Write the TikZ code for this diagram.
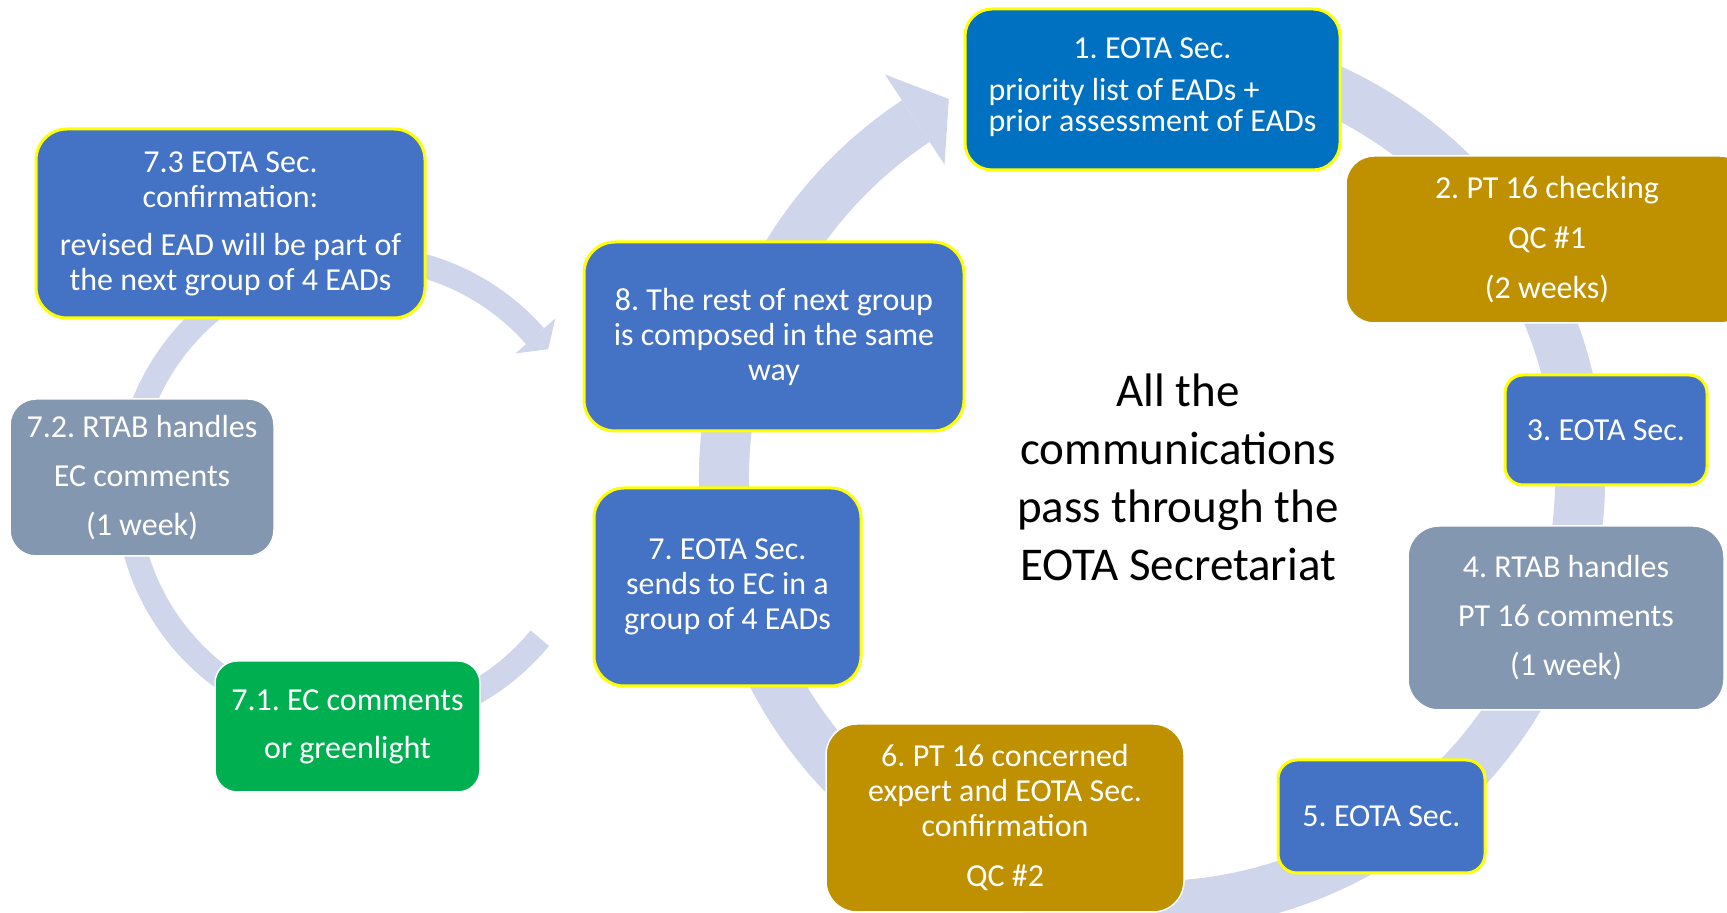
\documentclass[tikz,border=0pt]{standalone}
\usepackage{fontspec}
\setmainfont{Carlito}
\usetikzlibrary{calc}
\definecolor{ringc}{HTML}{CFD5EA}
\definecolor{bluea}{HTML}{0070C0}
\definecolor{blueb}{HTML}{4472C4}
\definecolor{gold}{HTML}{BF9000}
\definecolor{slate}{HTML}{8497B0}
\definecolor{grn}{HTML}{00B050}
\definecolor{yel}{HTML}{FFFF00}
\frenchspacing
\begin{document}
\frenchspacing
\begin{tikzpicture}[x=1pt,y=1pt,
  box/.style={rectangle, text=white, align=center, inner sep=0pt, font=\fontsize{32}{35}\selectfont},
  ybox/.style={box, draw=yel, line width=3pt},
  wbox/.style={box, draw=white, line width=1.5pt},
  ringline/.style={draw=ringc, line cap=butt},
  ringhead/.style={fill=ringc},
  bigtext/.style={text=black, align=center, inner sep=0pt, font=\fontsize{47}{58}\selectfont}
]
\useasboundingbox (0,0) rectangle (1727,913);
\clip (0,0) rectangle (1727,913);
\fill[white] (0,0) rectangle (1727,913);

% ring centres
\coordinate (bc) at (1152,435);
\coordinate (sc) at (360,423);

% big cycle
\draw[ringline, line width=50pt] ($(bc)+(110:428)$) arc[start angle=110, end angle=-236.5, radius=428];
\fill[ringhead] ($(bc)+(123.5:484)$) -- ($(bc)+(118.2:430)$) -- ($(bc)+(123.5:376)$) -- cycle;

% small cycle
\draw[ringline, line width=24pt] ($(sc)+(-39.5:233)$) arc[start angle=-39.5, end angle=-318.7, radius=233];
\fill[ringhead] ($(sc)+(41.3:260)$) -- ($(sc)+(36.8:235)$) -- ($(sc)+(41.3:207)$) -- cycle;

% boxes
\node[ybox, fill=bluea, minimum width=375, minimum height=161, rounded corners=27] (b1) at (1152.5,823.5)
  {1. EOTA Sec.\\[7pt]{\fontsize{32}{31}\selectfont\begin{tabular}[t]{@{}l@{}}priority list of EADs +\\prior assessment of EADs\end{tabular}}};
\node[wbox, fill=gold, minimum width=402, minimum height=167, rounded corners=28] (b2) at (1547,673.5)
  {2. PT 16 checking\\[15pt]QC \#1\\[15pt](2 weeks)};
\node[ybox, fill=blueb, minimum width=202, minimum height=110, rounded corners=18] (b3) at (1606,483)
  {3. EOTA Sec.};
\node[wbox, fill=slate, minimum width=316, minimum height=184, rounded corners=31] (b4) at (1566,295)
  {4. RTAB handles\\[14pt]PT 16 comments\\[14pt](1 week)};
\node[ybox, fill=blueb, minimum width=207, minimum height=113, rounded corners=19] (b5) at (1381.5,96.5)
  {5. EOTA Sec.};
\node[wbox, fill=gold, minimum width=358, minimum height=188, rounded corners=31] (b6) at (1005,95)
  {6. PT 16 concerned\\expert and EOTA Sec.\\confirmation\\[15pt]QC \#2};
\node[ybox, fill=blueb, minimum width=267, minimum height=198, rounded corners=30] (b7) at (727.5,326)
  {7. EOTA Sec.\\sends to EC in a\\group of 4 EADs};
\node[ybox, fill=blueb, minimum width=380, minimum height=189, rounded corners=31] (b8) at (774,576.5)
  {8. The rest of next group\\is composed in the same\\way};
\node[wbox, fill=grn, minimum width=265, minimum height=131, rounded corners=22] (b71) at (347.5,186.5)
  {7.1. EC comments\\[13pt]or greenlight};
\node[wbox, fill=slate, minimum width=264, minimum height=157, rounded corners=26] (b72) at (142,435.5)
  {7.2. RTAB handles\\[14pt]EC comments\\[14pt](1 week)};
\node[ybox, fill=blueb, minimum width=389, minimum height=189, rounded corners=31] (b73) at (230.5,689.5)
  {7.3 EOTA Sec.\\confirmation:\\[13pt]revised EAD will be part of\\the next group of 4 EADs};

\node[bigtext] (ctext) at (1178,435.5) {All the\\communications\\pass through the\\EOTA Secretariat};
\end{tikzpicture}
\end{document}
